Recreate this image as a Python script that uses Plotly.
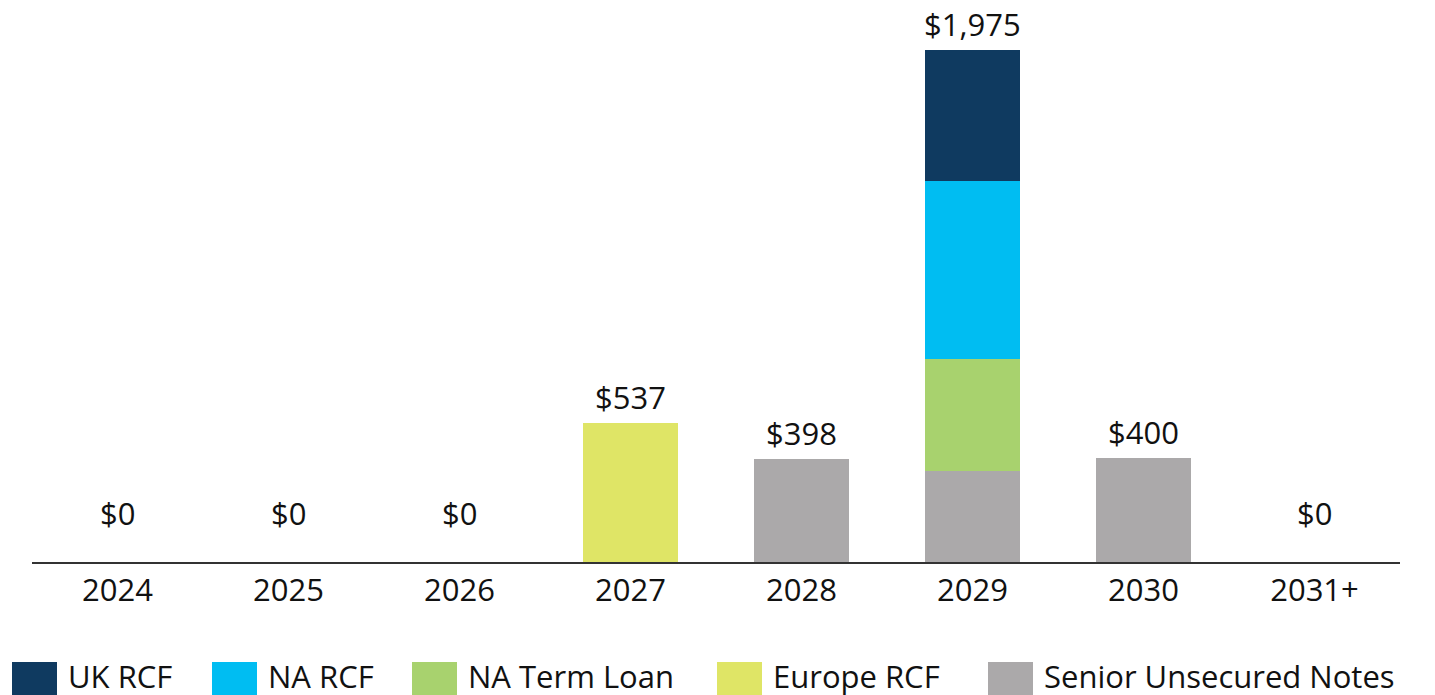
import plotly.graph_objects as go

years = ["2024", "2025", "2026", "2027", "2028", "2029", "2030", "2031+"]
series_names = ["Senior Unsecured Notes", "NA Term Loan", "NA RCF", "UK RCF", "Europe RCF"]
senior_notes = [0, 0, 0, 0, 398, 350, 400, 0]
na_term_loan = [0, 0, 0, 0, 0, 435, 0, 0]
na_rcf = [0, 0, 0, 0, 0, 683, 0, 0]
uk_rcf = [0, 0, 0, 0, 0, 507, 0, 0]
europe_rcf = [0, 0, 0, 537, 0, 0, 0, 0]
totals = [0, 0, 0, 537, 398, 1975, 400, 0]

colors = {
    "UK RCF": "#0F3A60",
    "NA RCF": "#00BDF2",
    "NA Term Loan": "#A8D26E",
    "Europe RCF": "#DFE566",
    "Senior Unsecured Notes": "#ABA9AA",
}
values = {
    "Senior Unsecured Notes": senior_notes,
    "NA Term Loan": na_term_loan,
    "NA RCF": na_rcf,
    "UK RCF": uk_rcf,
    "Europe RCF": europe_rcf,
}
legend_order = ["UK RCF", "NA RCF", "NA Term Loan", "Europe RCF", "Senior Unsecured Notes"]

FONT = "Open Sans"
FS = 31
OFF = 8  # page body margin
W, H = 1435 - OFF, 695 - OFF
ML, MR, MT, MB = 32 - OFF, 35, 0, 133
PW = W - ML - MR
PH = H - MT - MB


def px_to_paper_x(px):
    return (px - OFF - ML) / PW


def py_to_paper_y(py):
    return (H - MB - (py - OFF)) / PH


fig = go.Figure()
for name in series_names:
    fig.add_trace(go.Bar(
        x=years, y=values[name], name=name,
        marker=dict(color=colors[name], line=dict(width=0)),
        width=0.56, showlegend=False, hoverinfo="x+y+name",
    ))

for i, t in enumerate(totals):
    fig.add_annotation(
        x=i, y=t, xref="x", yref="y", text=f"${t:,}", showarrow=False,
        yanchor="bottom", yshift=(3 if t > 0 else 26),
        font=dict(family=FONT, size=FS, color="#111111"),
    )

# custom legend (large swatches as in the reference)
legend_px = [12, 212, 412, 717, 988]
sw = 45
for name, px in zip(legend_order, legend_px):
    fig.add_shape(type="rect", xref="paper", yref="paper",
                  x0=px_to_paper_x(px), x1=px_to_paper_x(px + sw),
                  y0=py_to_paper_y(710), y1=py_to_paper_y(662),
                  fillcolor=colors[name], line=dict(width=0), layer="above")
    fig.add_annotation(
        xref="paper", yref="paper", x=px_to_paper_x(px + sw + 9),
        y=py_to_paper_y(676), text=name, showarrow=False,
        xanchor="left", yanchor="middle",
        font=dict(family=FONT, size=FS, color="#111111"),
    )

fig.update_layout(
    width=W, height=H,
    margin=dict(l=ML, r=MR, t=MT, b=MB),
    barmode="stack",
    plot_bgcolor="white", paper_bgcolor="white",
    showlegend=False,
    font=dict(family=FONT, size=FS, color="#111111"),
    xaxis=dict(
        type="category", showline=True, linecolor="#333333", linewidth=2,
        showgrid=False, ticks="", 
        tickfont=dict(family=FONT, size=FS, color="#111111"),
        range=[-0.5, len(years) - 0.5],
    ),
    yaxis=dict(range=[0, 1975 * PH / 512], visible=False, showgrid=False),
)

fig.write_html("out.html")
